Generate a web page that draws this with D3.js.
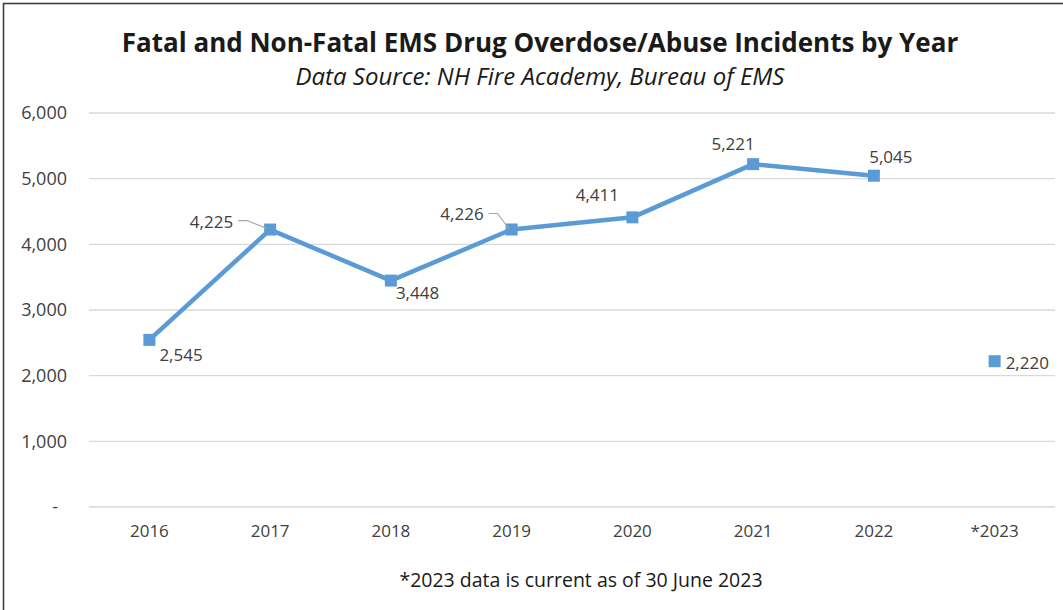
<!DOCTYPE html>
<html>
<head>
<meta charset="utf-8">
<script src="https://cdn.jsdelivr.net/npm/d3@7"></script>
<style>
  html, body { margin: 0; padding: 0; background: #fff; }
  svg { display: block; font-family: "Open Sans", "Noto Sans", sans-serif; }
</style>
</head>
<body>
<svg id="chart" width="1063" height="610"></svg>
<script>
// Yearly EMS overdose/abuse incident counts
const years = ["2016", "2017", "2018", "2019", "2020", "2021", "2022", "*2023"];
const incidents = [2545, 4225, 3448, 4226, 4411, 5221, 5045, 2220];
const yTicks = [0, 1000, 2000, 3000, 4000, 5000, 6000];
// Label placement per point: dx, dy, anchor, and optional leader line
const labelPlacement = [
  { dx: 10, dy: 21, anchor: "start" },
  { dx: -37, dy: -2, anchor: "end", leader: true },
  { dx: 5, dy: 18, anchor: "start" },
  { dx: -28, dy: -9, anchor: "end", leader: true },
  { dx: -35, dy: -16, anchor: "middle" },
  { dx: -20, dy: -14, anchor: "middle" },
  { dx: 17, dy: -13, anchor: "middle" },
  { dx: 11, dy: 8, anchor: "start" }
];

const svg = d3.select("#chart");
const color = "#5B9BD5";
const font = "'Open Sans', 'Noto Sans', sans-serif";
const plotLeft = 89, plotRight = 1055, plotTop = 113, plotBottom = 507;

// Chart frame (only top and left edges fall inside the view)
svg.append("rect")
  .attr("x", 3.5).attr("y", 3.5)
  .attr("width", 1100).attr("height", 700)
  .attr("fill", "none").attr("stroke", "#404040").attr("stroke-width", 1.6);

svg.append("text")
  .attr("x", 540).attr("y", 52)
  .attr("text-anchor", "middle")
  .attr("font-size", 26).attr("font-weight", "bold").attr("fill", "#1a1a1a")
  .text("Fatal and Non-Fatal EMS Drug Overdose/Abuse Incidents by Year");

svg.append("text")
  .attr("x", 540).attr("y", 85)
  .attr("text-anchor", "middle")
  .attr("font-size", 24).attr("font-style", "italic").attr("fill", "#1a1a1a")
  .text("Data Source: NH Fire Academy, Bureau of EMS");

const x = d3.scaleBand().domain(years).range([plotLeft, plotRight]);
const y = d3.scaleLinear().domain([0, 6000]).range([plotBottom, plotTop]);
const cx = d => x(d) + x.bandwidth() / 2;

// Gridlines
svg.append("g").selectAll("line").data(yTicks).join("line")
  .attr("x1", plotLeft).attr("x2", plotRight)
  .attr("y1", d => y(d)).attr("y2", d => y(d))
  .attr("stroke", "#d9d9d9").attr("stroke-width", 1.3);

// Y axis labels
const yAxis = d3.axisLeft(y).tickValues(yTicks).tickSize(0).tickPadding(0)
  .tickFormat(d => d === 0 ? "-" : d3.format(",")(d));
const gy = svg.append("g").attr("transform", `translate(${plotLeft - 22},0)`).call(yAxis);
gy.select(".domain").remove();
gy.selectAll("text").attr("font-size", 18).attr("fill", "#404040")
  .attr("font-family", font)
  .attr("dx", d => d === 0 ? -9 : 0);

// X axis labels
const xAxis = d3.axisBottom(x).tickSize(0).tickPadding(0);
const gx = svg.append("g").attr("transform", `translate(0,${plotBottom + 16})`).call(xAxis);
gx.select(".domain").remove();
gx.selectAll("text").attr("font-size", 17).attr("fill", "#404040")
  .attr("font-family", font)
  .attr("dy", "0.8em");

// Line through 2016–2022 (2023 is partial and shown as a lone point)
const pts = years.map((yr, i) => ({ yr, v: incidents[i], i }));
const line = d3.line().x(d => cx(d.yr)).y(d => y(d.v));
svg.append("path")
  .datum(pts.slice(0, 7))
  .attr("d", line)
  .attr("fill", "none").attr("stroke", color).attr("stroke-width", 4.5)
  .attr("stroke-linejoin", "round");

// Square markers
const ms = 12;
svg.append("g").selectAll("rect").data(pts).join("rect")
  .attr("x", d => cx(d.yr) - ms / 2).attr("y", d => y(d.v) - ms / 2)
  .attr("width", ms).attr("height", ms).attr("fill", color);

// Leader lines
svg.append("g").selectAll("path").data(pts.filter(d => labelPlacement[d.i].leader)).join("path")
  .attr("d", d => {
    const p = labelPlacement[d.i];
    const px = cx(d.yr), py = y(d.v);
    const sx = px + p.dx + 5, sy = py + p.dy - 7;
    return `M${sx},${sy} L${sx + 9},${sy} L${px - 3},${py - 1}`;
  })
  .attr("fill", "none").attr("stroke", "#a6a6a6").attr("stroke-width", 1.2);

// Value labels
svg.append("g").selectAll("text").data(pts).join("text")
  .attr("x", d => cx(d.yr) + labelPlacement[d.i].dx)
  .attr("y", d => y(d.v) + labelPlacement[d.i].dy)
  .attr("text-anchor", d => labelPlacement[d.i].anchor)
  .attr("font-size", 17).attr("fill", "#404040")
  .text(d => d3.format(",")(d.v));

svg.append("text")
  .attr("x", 581).attr("y", 587)
  .attr("text-anchor", "middle")
  .attr("font-size", 19.5).attr("fill", "#1a1a1a")
  .text("*2023 data is current as of 30 June 2023");
</script>
</body>
</html>
